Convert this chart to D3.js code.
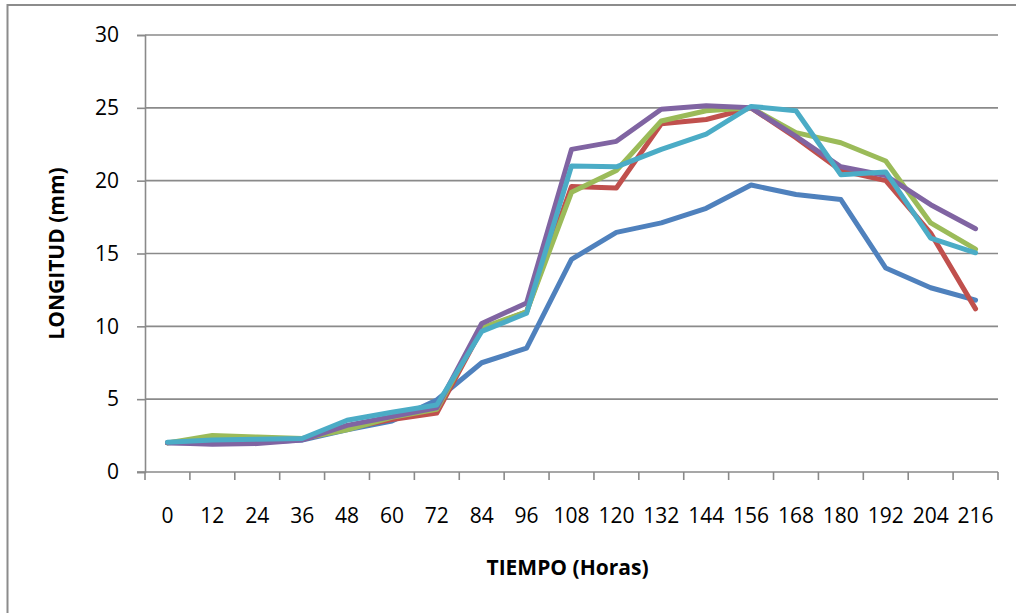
<!DOCTYPE html>
<html>
<head>
<meta charset="utf-8">
<script src="https://cdn.jsdelivr.net/npm/d3@7"></script>
<style>
  html, body { margin: 0; padding: 0; background: #fff; }
  svg { display: block; }
  text { font-family: "Open Sans", "Liberation Sans", sans-serif; fill: #000; }
</style>
</head>
<body>
<svg id="chart" width="1016" height="613"></svg>
<script>
// Time points (hours)
const hours = [0, 12, 24, 36, 48, 60, 72, 84, 96, 108, 120, 132, 144, 156, 168, 180, 192, 204, 216];

// Length (mm) for each series
const serie1 = [2.0, 2.0, 2.05, 2.2, 2.9, 3.5, 4.95, 7.5, 8.5, 14.6, 16.45, 17.1, 18.1, 19.7, 19.05, 18.7, 14.0, 12.65, 11.8];
const serie2 = [2.0, 2.2, 2.2, 2.25, 3.0, 3.6, 4.05, 9.8, 11.0, 19.6, 19.5, 23.9, 24.2, 25.0, 22.95, 20.7, 20.0, 16.4, 11.2];
const serie3 = [2.0, 2.5, 2.4, 2.3, 2.9, 3.75, 4.3, 9.9, 11.0, 19.2, 20.7, 24.1, 24.8, 25.0, 23.3, 22.6, 21.35, 17.1, 15.3];
const serie4 = [2.0, 1.9, 1.95, 2.2, 3.2, 3.8, 4.4, 10.2, 11.6, 22.15, 22.7, 24.9, 25.15, 25.0, 23.05, 20.95, 20.35, 18.35, 16.7];
const serie5 = [2.05, 2.2, 2.25, 2.3, 3.55, 4.1, 4.6, 9.65, 10.9, 21.0, 20.95, 22.15, 23.2, 25.1, 24.8, 20.4, 20.6, 16.05, 15.05];

const yTicks = [0, 5, 10, 15, 20, 25, 30];
const xTitle = "TIEMPO (Horas)";
const yTitle = "LONGITUD (mm)";

const seriesList = [
  { values: serie1, color: "#4F81BD" },
  { values: serie2, color: "#C0504D" },
  { values: serie3, color: "#9BBB59" },
  { values: serie4, color: "#8064A2" },
  { values: serie5, color: "#4BACC6" }
];

const svg = d3.select("#chart");
const plot = { left: 145, right: 998, top: 35, bottom: 472 };
const axisColor = "#8a8a8a";

// Outer chart frame
svg.append("rect")
  .attr("x", 7.5).attr("y", 5)
  .attr("width", 1030).attr("height", 640)
  .attr("fill", "none")
  .attr("stroke", "#8c8c8c")
  .attr("stroke-width", 2);

const x = d3.scaleBand()
  .domain(hours)
  .range([plot.left, plot.right]);

const y = d3.scaleLinear()
  .domain([0, 30])
  .range([plot.bottom, plot.top]);

// Horizontal gridlines
svg.append("g")
  .selectAll("line")
  .data(yTicks.filter(d => d > 0))
  .join("line")
  .attr("x1", plot.left).attr("x2", plot.right)
  .attr("y1", d => y(d)).attr("y2", d => y(d))
  .attr("stroke", axisColor)
  .attr("stroke-width", 1.6);

// Y axis
const yAxis = svg.append("g")
  .attr("transform", `translate(${plot.left},0)`)
  .call(d3.axisLeft(y).tickValues(yTicks).tickSize(8).tickPadding(18));
yAxis.select(".domain").attr("stroke", axisColor).attr("stroke-width", 1.6);
yAxis.selectAll(".tick line").attr("stroke", axisColor).attr("stroke-width", 1.6);
yAxis.selectAll(".tick text")
  .style("font-family", "'Open Sans', sans-serif")
  .style("font-size", "21px")
  .attr("fill", "#000");

// X axis: labels centred in bands, ticks on band boundaries
const xAxis = svg.append("g")
  .attr("transform", `translate(0,${plot.bottom})`)
  .call(d3.axisBottom(x).tickSize(0).tickPadding(36));
xAxis.select(".domain").remove();
xAxis.selectAll(".tick text")
  .style("font-family", "'Open Sans', sans-serif")
  .style("font-size", "21px")
  .attr("fill", "#000");

svg.append("line")
  .attr("x1", plot.left - 8).attr("x2", plot.right)
  .attr("y1", plot.bottom).attr("y2", plot.bottom)
  .attr("stroke", axisColor).attr("stroke-width", 1.6);

const boundaries = hours.map(h => x(h)).concat([x(hours[hours.length - 1]) + x.bandwidth()]);
svg.append("g")
  .selectAll("line")
  .data(boundaries)
  .join("line")
  .attr("x1", d => d).attr("x2", d => d)
  .attr("y1", plot.bottom).attr("y2", plot.bottom + 8)
  .attr("stroke", axisColor).attr("stroke-width", 1.6);

// Series lines
const line = d3.line()
  .x((d, i) => x(hours[i]) + x.bandwidth() / 2)
  .y(d => y(d));

svg.append("g")
  .selectAll("path")
  .data(seriesList)
  .join("path")
  .attr("d", s => line(s.values))
  .attr("fill", "none")
  .attr("stroke", s => s.color)
  .attr("stroke-width", 5)
  .attr("stroke-linejoin", "round")
  .attr("stroke-linecap", "round");

// Axis titles
svg.append("text")
  .attr("x", (plot.left + plot.right) / 2 - 4)
  .attr("y", 575)
  .attr("text-anchor", "middle")
  .style("font-size", "21px")
  .style("font-weight", "bold")
  .text(xTitle);

svg.append("text")
  .attr("transform", `translate(64,${(plot.top + plot.bottom) / 2}) rotate(-90)`)
  .attr("text-anchor", "middle")
  .style("font-size", "21px")
  .style("font-weight", "bold")
  .text(yTitle);
</script>
</body>
</html>
